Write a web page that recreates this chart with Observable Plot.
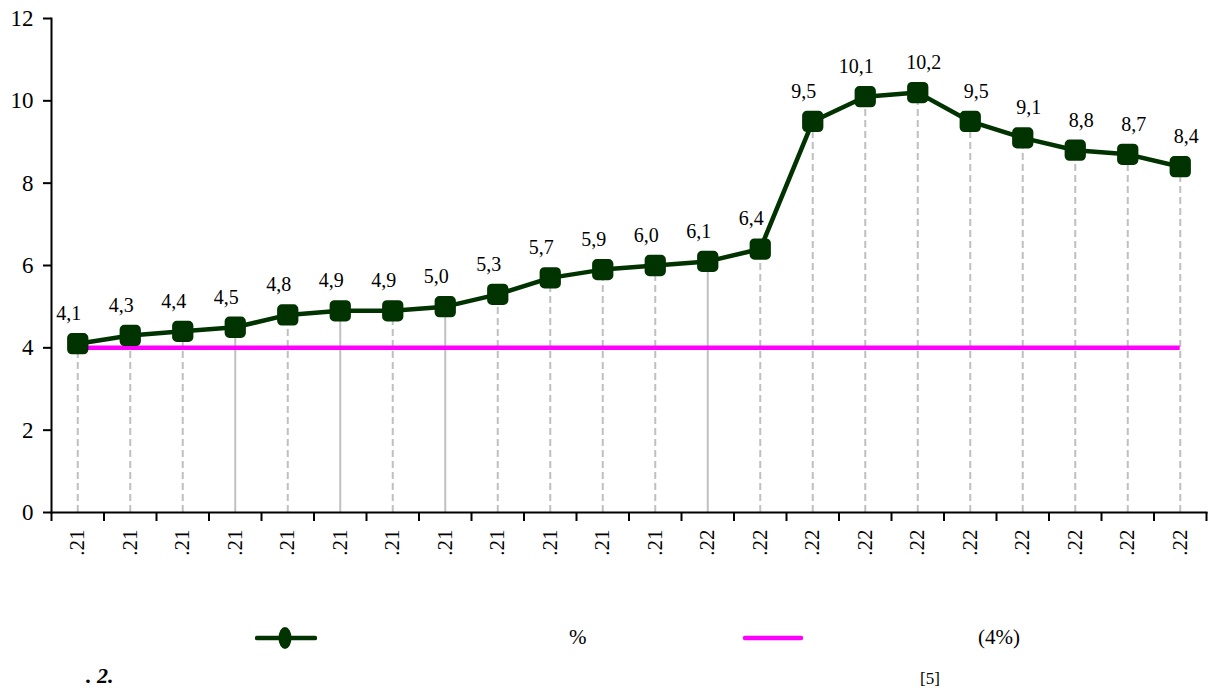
<!DOCTYPE html>
<html>
<head>
<meta charset="utf-8">
<script src="https://cdn.jsdelivr.net/npm/d3@7"></script>
<script src="https://cdn.jsdelivr.net/npm/@observablehq/plot@0.6"></script>
<style>
  html, body { margin: 0; padding: 0; background: white; }
  #wrap { position: relative; width: 1217px; height: 693px; font-family: "Liberation Serif", "Times New Roman", serif; color: black; }
  #chart { position: absolute; left: 0; top: 0; }
  .abs { position: absolute; white-space: nowrap; }
</style>
</head>
<body>
<div id="wrap">
  <div id="chart"></div>
  <svg class="abs" style="left:255px;top:624px" width="62" height="28">
    <line x1="2" y1="14" x2="60" y2="14" stroke="#003300" stroke-width="4.5" stroke-linecap="round"/>
    <ellipse cx="30" cy="14" rx="6.5" ry="11" fill="#003300"/>
  </svg>
  <div class="abs" id="leg1" style="left:569px;top:625px;font-size:21px;">%</div>
  <svg class="abs" style="left:742px;top:630px" width="62" height="16">
    <line x1="3" y1="8" x2="59" y2="8" stroke="#ff00ff" stroke-width="4.5" stroke-linecap="round"/>
  </svg>
  <div class="abs" id="leg2" style="left:978px;top:625px;font-size:21px;">(4%)</div>
  <div class="abs" style="left:86px;top:663px;font-size:22px;font-weight:bold;font-style:italic;">. 2.</div>
  <div class="abs" style="left:920px;top:669px;font-size:17px;">[5]</div>
</div>
<script>
const labels = [".21", ".21", ".21", ".21", ".21", ".21", ".21", ".21", ".21", ".21", ".21", ".21",
                ".22", ".22", ".22", ".22", ".22", ".22", ".22", ".22", ".22", ".22"];
const values = [4.1, 4.3, 4.4, 4.5, 4.8, 4.9, 4.9, 5.0, 5.3, 5.7, 5.9, 6.0, 6.1, 6.4,
                9.5, 10.1, 10.2, 9.5, 9.1, 8.8, 8.7, 8.4];
const threshold = 4;
const yTicks = [0, 2, 4, 6, 8, 10, 12];

const rows = values.map((v, i) => ({ i, v, label: labels[i] }));
const fmt = v => v.toFixed(1).replace(".", ",");
const solid = new Set([3, 5, 7, 12]);

const green = "#003300";
const roundSq = {
  draw(ctx, size) {
    const h = Math.sqrt(size) / 2, r = h * 0.45;
    ctx.moveTo(-h + r, -h);
    ctx.lineTo(h - r, -h);
    ctx.arcTo(h, -h, h, -h + r, r);
    ctx.lineTo(h, h - r);
    ctx.arcTo(h, h, h - r, h, r);
    ctx.lineTo(-h + r, h);
    ctx.arcTo(-h, h, -h, h - r, r);
    ctx.lineTo(-h, -h + r);
    ctx.arcTo(-h, -h, -h + r, -h, r);
    ctx.closePath();
  }
};

const chart = Plot.plot({
  width: 1217,
  height: 600,
  marginLeft: 51,
  marginRight: 11,
  marginTop: 18,
  marginBottom: 88,
  x: { type: "linear", domain: [-0.5, labels.length - 0.5], label: null },
  y: { domain: [0, 12], label: null },
  style: { fontFamily: "'Liberation Serif', 'Times New Roman', serif", background: "white", color: "black" },
  marks: [
    Plot.ruleX(rows.filter(d => !solid.has(d.i)), { x: "i", y1: 0, y2: "v", stroke: "#c0c0c0", strokeWidth: 2, strokeDasharray: "7,4" }),
    Plot.ruleX(rows.filter(d => solid.has(d.i)), { x: "i", y1: 0, y2: "v", stroke: "#c0c0c0", strokeWidth: 2 }),
    Plot.ruleY([threshold], { x1: 0, x2: labels.length - 1, y: d => d, stroke: "#ff00ff", strokeWidth: 4.5 }),
    Plot.frame({ anchor: "left", stroke: "black", strokeWidth: 2 }),
    Plot.frame({ anchor: "bottom", stroke: "black", strokeWidth: 2 }),
    Plot.axisY({ ticks: yTicks, tickSize: 8, tickPadding: 10, fontSize: 23, strokeWidth: 2, label: null, tickFormat: d => String(d) }),
    Plot.axisX({ ticks: d3.range(-0.5, labels.length, 1), tickSize: 9, strokeWidth: 2, label: null, tickFormat: () => "" }),
    Plot.axisX({ ticks: d3.range(0, labels.length), tickSize: 0, tickPadding: 17, tickRotate: -90, fontSize: 21, label: null, tickFormat: i => labels[i] }),
    Plot.line(rows, { x: "i", y: "v", stroke: green, strokeWidth: 4.5 }),
    Plot.dot(rows, { x: "i", y: "v", symbol: roundSq, r: 12, fill: green, stroke: "none" }),
    Plot.text(rows.filter(d => d.i <= 15), { x: "i", y: "v", text: d => fmt(d.v), dy: -30, dx: -9, fontSize: 20 }),
    Plot.text(rows.filter(d => d.i > 15), { x: "i", y: "v", text: d => fmt(d.v), dy: -30, dx: 6, fontSize: 20 })
  ]
});
document.getElementById("chart").appendChild(chart);
</script>
</body>
</html>
